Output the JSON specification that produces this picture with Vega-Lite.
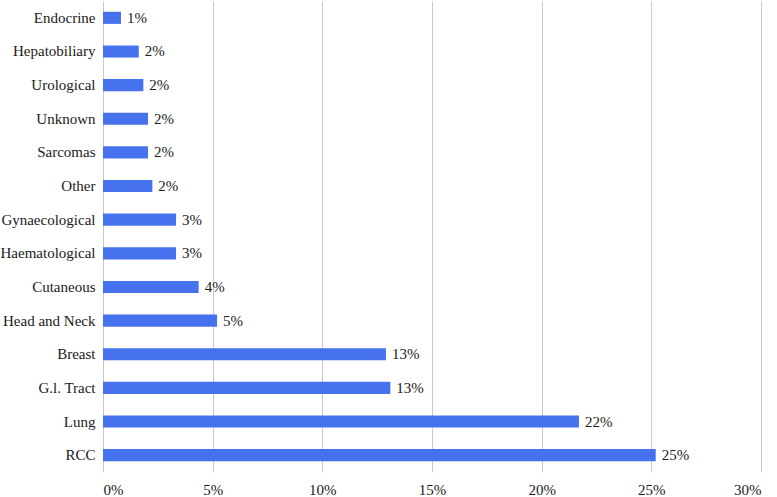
{
  "$schema": "https://vega.github.io/schema/vega-lite/v6.json",
  "autosize": {"type": "none"},
  "padding": {"left": 103, "top": 1, "right": 16, "bottom": 25},
  "width": 658,
  "height": 471,
  "background": "white",
  "data": {
    "values": [
      {"site": "Endocrine", "share": 0.0082},
      {"site": "Hepatobiliary", "share": 0.0163},
      {"site": "Urological", "share": 0.0184},
      {"site": "Unknown", "share": 0.0205},
      {"site": "Sarcomas", "share": 0.0205},
      {"site": "Other", "share": 0.0225},
      {"site": "Gynaecological", "share": 0.0333},
      {"site": "Haematological", "share": 0.0333},
      {"site": "Cutaneous", "share": 0.0436},
      {"site": "Head and Neck", "share": 0.052},
      {"site": "Breast", "share": 0.129},
      {"site": "G.l. Tract", "share": 0.131},
      {"site": "Lung", "share": 0.217},
      {"site": "RCC", "share": 0.252}
    ]
  },
  "encoding": {
    "y": {
      "field": "site",
      "type": "nominal",
      "sort": null,
      "scale": {"paddingInner": 0.64, "paddingOuter": 0.32},
      "axis": {
        "title": null,
        "ticks": false,
        "domain": false,
        "labelFont": "Liberation Serif",
        "labelFontSize": 15,
        "labelColor": "#1a1a1a",
        "labelPadding": 8
      }
    },
    "x": {
      "field": "share",
      "type": "quantitative",
      "scale": {"domain": [0, 0.3], "nice": false},
      "axis": {
        "title": null,
        "format": ".0%",
        "values": [0, 0.05, 0.1, 0.15, 0.2, 0.25, 0.3],
        "ticks": false,
        "domain": false,
        "grid": true,
        "gridColor": "#c8c8c8",
        "gridWidth": 1,
        "labelFont": "Liberation Serif",
        "labelFontSize": 15,
        "labelColor": "#1a1a1a",
        "labelPadding": 10
      }
    }
  },
  "layer": [
    {"mark": {"type": "bar", "color": "#4672ee"}},
    {
      "mark": {
        "type": "text",
        "align": "left",
        "baseline": "middle",
        "dx": 6,
        "font": "Liberation Serif",
        "fontSize": 15,
        "color": "#1a1a1a"
      },
      "encoding": {"text": {"field": "share", "format": ".0%"}}
    }
  ],
  "config": {"view": {"stroke": null}}
}
